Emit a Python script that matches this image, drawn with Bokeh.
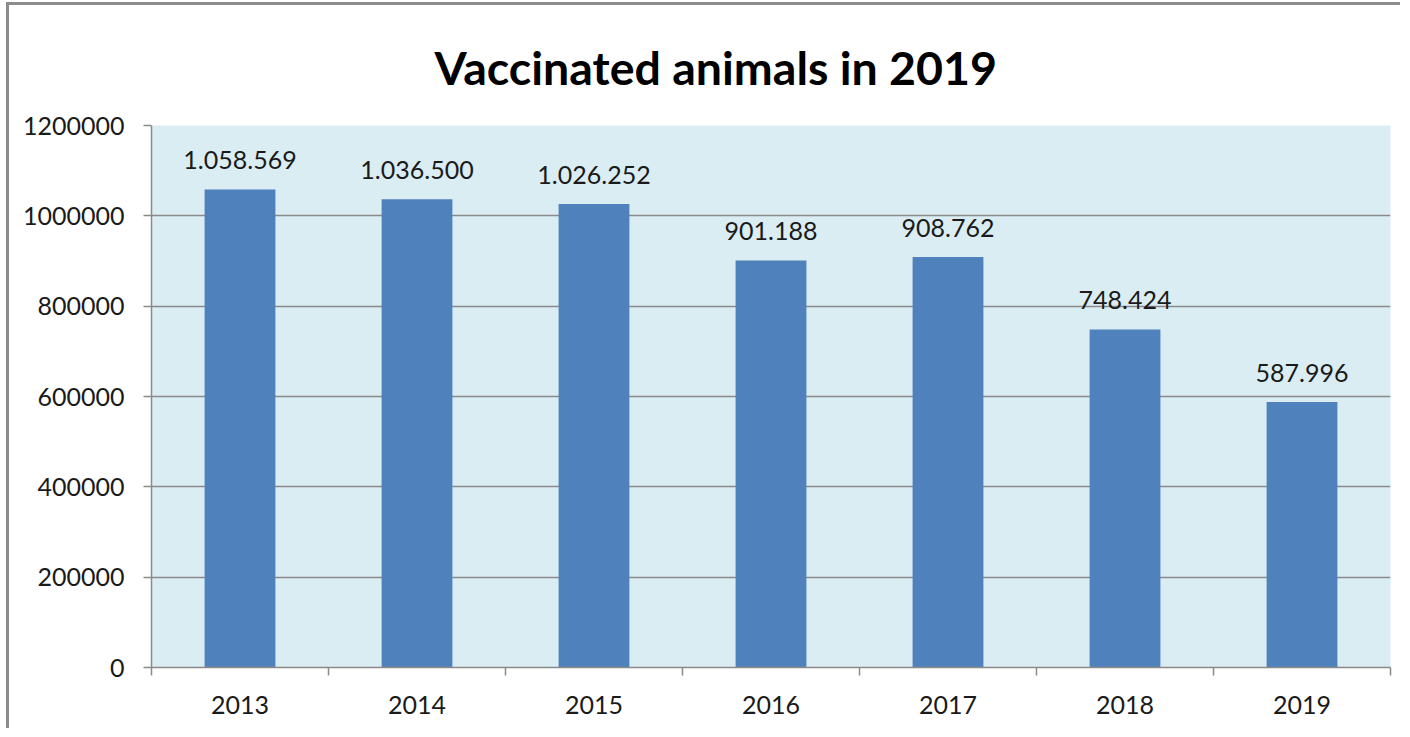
from bokeh.plotting import figure
from bokeh.models import FixedTicker, NumeralTickFormatter, Range1d, ColumnDataSource, Title
from bokeh.core.properties import value
from bokeh.embed import file_html
from bokeh.resources import INLINE

years = ["2013", "2014", "2015", "2016", "2017", "2018", "2019"]
vaccinated = [1058569, 1036500, 1026252, 901188, 908762, 748424, 587996]
y_ticks = [0, 200000, 400000, 600000, 800000, 1000000, 1200000]

labels = [f"{v:,}".replace(",", ".") for v in vaccinated]
xs = list(range(len(years)))
src = ColumnDataSource(dict(x=xs, top=vaccinated, label=labels))

FONT = "Lato"

p = figure(width=1394, height=726, output_backend="svg", toolbar_location=None,
           x_range=Range1d(-0.5, len(years) - 0.5), y_range=Range1d(0, 1200000),
           min_border_left=142, min_border_right=13, min_border_top=120, min_border_bottom=64)
p.styles = {"border-top": "3px solid #8c8c8c", "border-left": "3px solid #8c8c8c",
            "margin-left": "6px", "margin-top": "2px"}

p.background_fill_color = "#DAEDF3"
p.border_fill_color = "white"
p.outline_line_color = None

t = Title(text="Vaccinated animals in 2019", align="left", text_font=FONT,
          text_font_size="46.5px", text_font_style="bold", text_color="black",
          offset=283, standoff=62)
p.add_layout(t, "above")

p.vbar(x="x", top="top", width=0.4, source=src, fill_color="#4F81BD", line_color=None)
p.text(x="x", y="top", text="label", source=src, text_align="center",
       text_baseline="alphabetic", y_offset=-29, text_font=value(FONT),
       text_font_size="25px", text_color="#1a1a1a")

p.xgrid.grid_line_color = None
p.ygrid.grid_line_color = "#8a8a8a"
p.ygrid.grid_line_width = 1.5
p.ygrid.ticker = FixedTicker(ticks=y_ticks)

p.xaxis.ticker = FixedTicker(ticks=xs, minor_ticks=[i - 0.5 for i in range(len(years) + 1)])
p.xaxis.major_label_overrides = {i: y for i, y in enumerate(years)}
p.xaxis.major_tick_line_color = None
p.xaxis.major_tick_out = 8
p.xaxis.major_tick_in = 0
p.xaxis.minor_tick_line_color = "#8a8a8a"
p.xaxis.minor_tick_line_width = 1.5
p.xaxis.minor_tick_out = 8
p.xaxis.minor_tick_in = 0
p.xaxis.axis_line_color = "#8a8a8a"
p.xaxis.axis_line_width = 1.5
p.xaxis.major_label_standoff = 20

p.yaxis.ticker = FixedTicker(ticks=y_ticks)
p.yaxis.formatter = NumeralTickFormatter(format="0")
p.yaxis.major_tick_line_color = "#8a8a8a"
p.yaxis.major_tick_line_width = 1.5
p.yaxis.major_tick_out = 8
p.yaxis.major_tick_in = 0
p.yaxis.minor_tick_line_color = None
p.yaxis.axis_line_color = "#8a8a8a"
p.yaxis.axis_line_width = 1.5
p.yaxis.major_label_standoff = 19

for ax in (p.xaxis, p.yaxis):
    ax.major_label_text_font = FONT
    ax.major_label_text_font_size = "25px"
    ax.major_label_text_color = "#1a1a1a"

open("out.html", "w").write(file_html(p, INLINE))
